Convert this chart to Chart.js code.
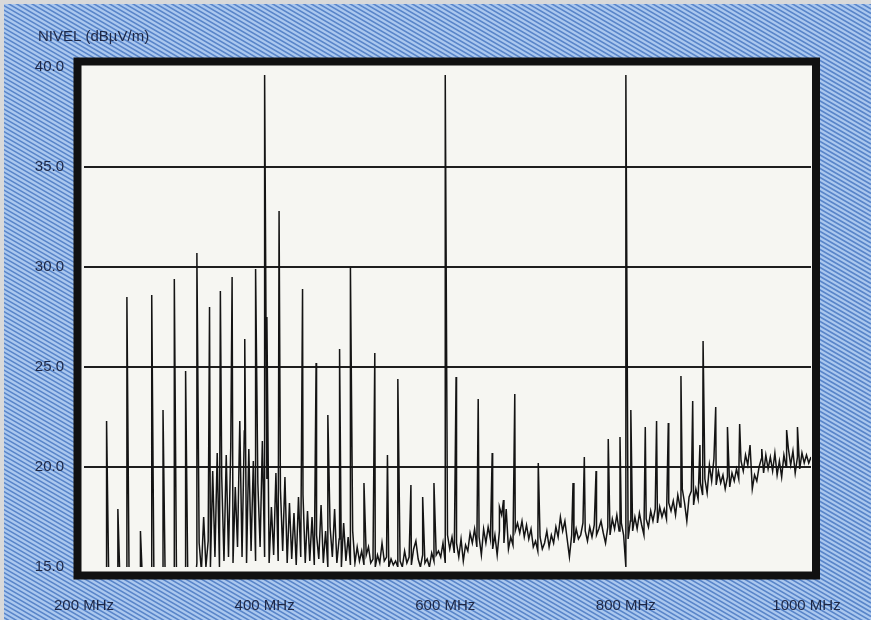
<!DOCTYPE html>
<html>
<head>
<meta charset="utf-8">
<script src="https://cdn.jsdelivr.net/npm/chart.js@4.4.0/dist/chart.umd.min.js"></script>
<style>
  html, body { margin: 0; padding: 0; background: #d9d9d9; }
  canvas { display: block; }
</style>
</head>
<body>
<canvas id="specChart" width="871" height="620"></canvas>
<script>
// sweep: one reading every 2.5 MHz from 200 MHz (values under 15 are off the scale)
const sweepStart = 200;
const sweepStep = 2.5;
const floorLevels = [
  14, 14, 14, 14, 14, 14, 14, 14, 14, 14, 14, 14, 14, 14, 14, 14, 14, 14, 14, 14,
  14, 14, 14, 14, 14, 14, 14, 14, 14, 14, 14, 14, 14, 14, 14, 14, 14, 14, 14, 14,
  14, 14, 14, 14, 14, 14, 14, 14, 14, 14, 15.2, 16.2, 14.8, 17.5, 15.0, 16.3, 15.0, 19.8, 15.5, 20.7,
  15.0, 19.5, 15.3, 20.6, 15.5, 21.0, 15.2, 19.0, 16.0, 22.3, 15.5, 21.8, 15.2, 20.9, 15.8, 20.3, 15.3, 19.2, 16.0, 21.3,
  15.5, 19.4, 15.2, 18.0, 15.6, 19.7, 15.3, 18.9, 15.8, 19.5, 15.2, 18.2, 15.4, 17.7, 15.1, 18.5, 15.5, 18.6, 15.2, 17.8,
  15.3, 17.5, 15.1, 16.6, 15.4, 18.1, 15.2, 16.8, 15.0, 17.0, 15.5, 17.9, 15.2, 16.4, 15.0, 17.2, 15.3, 16.5, 15.1, 16.8,
  15.2, 16.0, 15.3, 15.8, 15.1, 15.6, 16.0, 15.2, 15.4, 15.0, 15.6, 15.2, 16.2, 15.3, 15.5, 15.0, 15.4, 15.1, 15.3, 15.0,
  15.3, 15.0, 15.8, 15.2, 15.5, 15.1, 15.9, 16.3, 15.4, 15.0, 15.6, 15.2, 15.4, 15.0, 15.7, 15.3, 15.6, 15.8, 15.5, 16.2,
  15.2, 16.6, 15.9, 16.5, 15.7, 16.2, 15.5, 16.4, 15.3, 16.1, 15.8, 16.7, 16.2, 16.9, 16.0, 16.5, 15.6, 16.9, 16.2, 17.0,
  16.4, 15.9, 16.6, 15.6, 16.8, 17.6, 16.2, 17.9, 15.9, 16.5, 16.1, 16.8, 17.2, 16.7, 17.3, 16.5, 17.1, 16.4, 16.9, 16.0,
  16.3, 15.8, 16.5, 15.9, 16.2, 16.8, 16.0, 16.6, 16.2, 17.0, 16.5, 17.5, 16.8, 17.3, 16.4, 15.5, 16.6, 16.2, 16.9, 16.4,
  16.6, 17.2, 16.8, 16.3, 17.0, 16.5, 17.1, 16.6, 16.9, 17.3, 16.7, 16.2, 17.0, 16.6, 17.4, 16.9, 17.6, 16.8, 17.2, 16.6,
  15.0, 16.4, 17.3, 16.8, 17.5, 16.9, 17.7, 17.1, 16.6, 17.4, 17.0, 17.8, 17.3, 17.9, 17.2, 18.0, 17.5, 17.9, 17.4, 18.2,
  17.8, 18.3, 17.6, 18.6, 18.0, 18.9, 18.2, 17.3, 18.5, 18.8, 18.1, 18.9, 18.4, 19.2, 18.6, 19.4, 18.7, 20.1, 19.3, 20.4,
  19.1, 19.8, 19.2, 19.6, 18.9, 19.5, 19.0, 19.7, 19.3, 19.9, 19.4, 20.3, 19.8, 20.6, 20.1, 21.1, 18.9, 19.6, 19.3, 20.0,
  20.4, 19.7, 20.6, 19.9, 20.5, 19.8, 20.7, 19.6, 20.3, 19.5, 20.6, 20.0, 20.9, 20.1, 20.8, 19.7, 20.5, 19.9, 20.7, 20.2,
  20.6, 20.2, 20.5
];

// discrete carriers (MHz) and their peak levels (dBuV/m)
const spikeFreqs = [225, 237.5, 247.5, 262.5, 275, 287.5, 300, 312.5, 325, 339, 351, 364, 378, 390, 400, 402.5, 416,
  442, 457, 470, 483, 495, 510, 522, 536, 547.5, 562, 575, 587.5, 600, 612, 636.5, 652, 660, 664.5, 677, 703,
  741.5, 754, 767, 780.5, 793.5, 800, 805.5, 821.5, 834, 847, 861, 874, 882, 885.5, 899.5, 912.5, 926, 950.5, 978, 990];
const spikePeaks = [22.3, 17.9, 28.5, 16.8, 28.6, 22.85, 29.4, 24.8, 30.7, 28.0, 28.8, 29.5, 26.4, 29.9, 39.6, 27.5, 32.8,
  28.9, 25.2, 22.6, 25.9, 30.0, 19.2, 25.7, 20.6, 24.4, 19.1, 18.5, 19.2, 39.6, 24.5, 23.4, 20.7, 18.0, 18.35, 23.65, 20.2,
  19.2, 20.5, 19.8, 21.4, 21.5, 39.6, 22.85, 22.0, 22.3, 22.2, 24.55, 23.3, 21.1, 26.3, 23.0, 22.0, 22.15, 20.9, 21.85, 22.0];

const xTicks = [200, 400, 600, 800, 1000];
const yTicks = [15, 20, 25, 30, 35, 40];
const yTitle = "NIVEL (dBµV/m)";

const textColor = "#1d2746";
const labelFont = { family: "'Liberation Sans', Arial, sans-serif", size: 15 };

// one trace: sweep readings + carriers, sorted by frequency
const trace = floorLevels.map((v, i) => ({ x: sweepStart + i * sweepStep, y: v }));
spikeFreqs.forEach((f, i) => trace.push({ x: f, y: spikePeaks[i] }));
trace.sort((a, b) => a.x - b.x);

const backdrop = {
  id: "backdrop",
  beforeDraw(chart) {
    const ctx = chart.ctx;
    const W = chart.width, H = chart.height;
    const a = chart.chartArea;
    ctx.save();
    ctx.fillStyle = "#d9d9d9";
    ctx.fillRect(0, 0, W, H);
    ctx.beginPath();
    ctx.rect(4, 4, W - 4, H - 4);
    ctx.clip();
    ctx.fillStyle = "#abc8ef";
    ctx.fillRect(4, 4, W, H);
    ctx.strokeStyle = "#5985c9";
    ctx.lineWidth = 1.6;
    ctx.beginPath();
    for (let y = -W * 0.58; y < H; y += 4.5) {
      ctx.moveTo(0, y);
      ctx.lineTo(W, y + W * 0.58);
    }
    ctx.stroke();
    ctx.restore();

    ctx.save();
    ctx.fillStyle = "#f6f6f2";
    ctx.fillRect(a.left - 3, a.top - 3, a.right - a.left + 6, a.bottom - a.top + 8);
    ctx.restore();
  },
  afterDraw(chart) {
    const ctx = chart.ctx;
    const a = chart.chartArea;
    ctx.save();
    ctx.strokeStyle = "#111111";
    ctx.lineWidth = 8;
    ctx.strokeRect(a.left - 6.5, a.top - 5.5, (a.right + 5) - (a.left - 6.5), (a.bottom + 8.5) - (a.top - 5.5));
    ctx.fillStyle = textColor;
    ctx.font = "15px 'Liberation Sans', Arial, sans-serif";
    ctx.textBaseline = "middle";
    ctx.fillText(yTitle, 38, 37);
    ctx.restore();
  }
};

const ctx = document.getElementById("specChart").getContext("2d");

new Chart(ctx, {
  type: "line",
  data: {
    datasets: [{
      data: trace,
      borderColor: "#141414",
      borderWidth: 1.5,
      pointRadius: 0,
      tension: 0,
      fill: false
    }]
  },
  options: {
    responsive: false,
    animation: false,
    layout: { padding: { top: 67, right: 60, bottom: 0, left: 0 } },
    plugins: {
      legend: { display: false },
      tooltip: { enabled: false }
    },
    scales: {
      x: {
        type: "linear",
        min: 200,
        max: 1005,
        afterBuildTicks: s => { s.ticks = xTicks.map(v => ({ value: v })); },
        afterFit: s => { s.height = 53; },
        grid: { display: false },
        border: { display: false },
        ticks: {
          padding: 22,
          color: textColor,
          font: labelFont,
          maxRotation: 0,
          callback: v => v + " MHz"
        }
      },
      y: {
        type: "linear",
        min: 15,
        max: 40,
        afterBuildTicks: s => { s.ticks = yTicks.map(v => ({ value: v })); },
        afterFit: s => { s.width = 84; },
        grid: {
          color: c => (c.tick && (c.tick.value === 15 || c.tick.value === 40)) ? "rgba(0,0,0,0)" : "#1e1e1e",
          lineWidth: 2,
          drawTicks: false
        },
        border: { display: false },
        ticks: {
          padding: 20,
          color: textColor,
          font: labelFont,
          callback: v => Number(v).toFixed(1)
        }
      }
    }
  },
  plugins: [backdrop]
});
</script>
</body>
</html>
